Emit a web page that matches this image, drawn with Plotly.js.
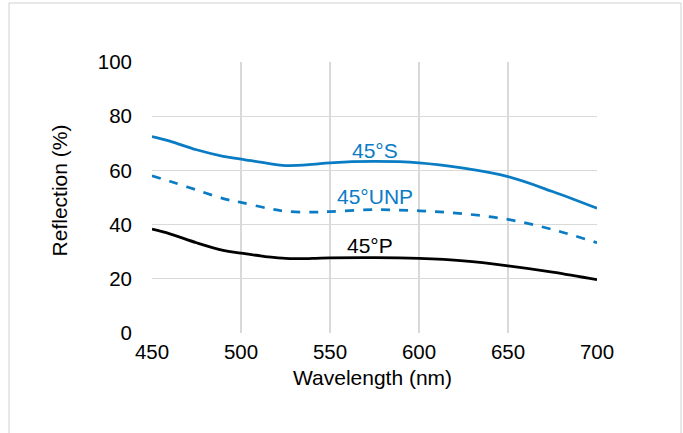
<!DOCTYPE html>
<html>
<head>
<meta charset="utf-8">
<script src="https://cdn.plot.ly/plotly-3.0.1.min.js"></script>
<style>
html,body{margin:0;padding:0;background:#fff;}
#chart{width:683px;height:433px;}
</style>
</head>
<body>
<div id="chart"></div>
<script>
const wavelength = [450, 460, 475, 490, 500, 515, 525, 540, 550, 575, 600, 625, 650, 675, 700];
const reflS      = [72.5, 70.8, 67.6, 65.2, 64.2, 62.6, 61.8, 62.2, 62.8, 63.3, 62.8, 60.8, 57.7, 52.2, 46.0];
const reflUNP    = [58.0, 56.0, 52.8, 49.6, 48.2, 46.0, 44.9, 44.6, 44.8, 45.5, 45.1, 44.0, 41.9, 38.2, 33.3];
const reflP      = [38.3, 36.6, 33.3, 30.5, 29.5, 28.1, 27.5, 27.5, 27.7, 27.8, 27.5, 26.6, 24.8, 22.5, 19.7];
const seriesNames = ["45°S", "45°UNP", "45°P"];
const labelX = [575, 575, 572.5];
const labelY = [67.2, 50.3, 32.4];
const xTicks = [450, 500, 550, 600, 650, 700];
const yTicks = [0, 20, 40, 60, 80, 100];
const xTitle = "Wavelength (nm)";
const yTitle = "Reflection (%)";

const blue = "#0a7cc4";
const black = "#000000";
const font = "Liberation Sans, Arial, sans-serif";

const traces = [
  {x: wavelength, y: reflS, mode: "lines", line: {color: blue, width: 2.75, shape: "spline"}, name: seriesNames[0]},
  {x: wavelength, y: reflUNP, mode: "lines", line: {color: blue, width: 2.75, dash: "dash", shape: "spline"}, name: seriesNames[1]},
  {x: wavelength, y: reflP, mode: "lines", line: {color: black, width: 2.75, shape: "spline"}, name: seriesNames[2]}
];

const labelColors = [blue, blue, black];
const annotations = seriesNames.map((n, i) => ({
  x: labelX[i], y: labelY[i], xref: "x", yref: "y", text: n, showarrow: false,
  font: {family: font, size: 21, color: labelColors[i]}
}));
annotations.push({
  x: 0.496, y: -0.166, xref: "paper", yref: "paper", text: xTitle, showarrow: false,
  xanchor: "center", yanchor: "middle", font: {family: font, size: 21, color: "#000"}
});
annotations.push({
  x: -0.209, y: 0.526, xref: "paper", yref: "paper", text: yTitle, showarrow: false,
  textangle: -90, xanchor: "center", yanchor: "middle", font: {family: font, size: 21, color: "#000"}
});

const layout = {
  width: 683, height: 433,
  margin: {l: 152, r: 86, t: 62, b: 100, pad: 0},
  paper_bgcolor: "#fff", plot_bgcolor: "#fff",
  showlegend: false,
  font: {family: font, size: 20.5, color: "#000"},
  xaxis: {
    range: [450, 700], tickvals: xTicks, ticktext: xTicks.map(String),
    showgrid: true, gridcolor: "#d9d9d9", gridwidth: 1.3, zeroline: false, showline: false,
    ticks: "", ticklabelstandoff: 4,
    tickfont: {family: font, size: 20.5, color: "#000"}
  },
  yaxis: {
    range: [0, 100], tickvals: yTicks, ticktext: yTicks.map(String),
    showgrid: true, gridcolor: "#d9d9d9", gridwidth: 1.3, zeroline: false, showline: false,
    ticks: "", ticklabelstandoff: 19,
    tickfont: {family: font, size: 20.5, color: "#000"}
  },
  annotations: annotations,
  shapes: [{
    type: "rect", xref: "paper", yref: "paper",
    x0: -0.3213, x1: 1.1888, y0: -0.5, y1: 1.2177,
    line: {color: "#d0d0d0", width: 1}
  }]
};

Plotly.newPlot("chart", traces, layout, {displayModeBar: false, staticPlot: true});
</script>
</body>
</html>
